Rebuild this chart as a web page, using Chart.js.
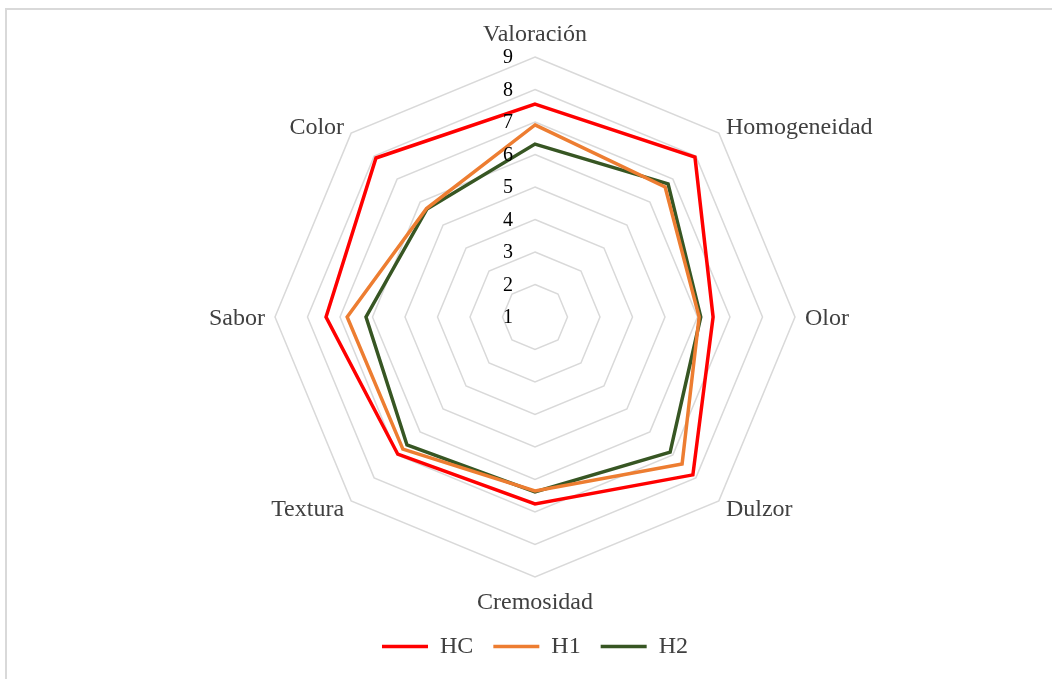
<!DOCTYPE html>
<html>
<head>
<meta charset="utf-8">
<title>Radar</title>
<script src="https://cdn.jsdelivr.net/npm/chart.js@4.4.1/dist/chart.umd.min.js"></script>
<style>
  body { margin: 0; background: #fff; }
  #wrap { position: relative; width: 1052px; height: 679px; overflow: hidden; }
  #frame { position: absolute; left: 5px; top: 8px; width: 1100px; height: 700px;
           border-left: 2px solid #d9d9d9; border-top: 2px solid #d9d9d9; }
  canvas { position: absolute; left: 0; top: 0; }
</style>
</head>
<body>
<div id="wrap">
  <div id="frame"></div>
  <canvas id="radarChart" width="1052" height="679"></canvas>
</div>
<script>
// categorias en orden horario desde arriba
const categories = ['Valoración', 'Homogeneidad', 'Olor', 'Dulzor', 'Cremosidad', 'Textura', 'Sabor', 'Color'];
const tickValues = [1, 2, 3, 4, 5, 6, 7, 8, 9];

const hcValues = [7.55, 7.96, 6.48, 7.87, 6.75, 6.97, 7.43, 7.92];
const h1Values = [6.91, 6.66, 6.05, 7.40, 6.35, 6.75, 6.78, 5.72];
const h2Values = [6.32, 6.79, 6.10, 6.88, 6.38, 6.57, 6.20, 5.70];

const serif = '"Liberation Serif", "Times New Roman", serif';

// etiquetas de los ejes y de la escala, dibujadas con la escala radial
const radarLabels = {
    id: 'radarLabels',
    afterDatasetsDraw(chart) {
        const r = chart.scales.r;
        const ctx = chart.ctx;
        ctx.save();

        ctx.font = '20px ' + serif;
        ctx.fillStyle = '#000000';
        ctx.textAlign = 'right';
        ctx.textBaseline = 'middle';
        tickValues.forEach(v => {
            const y = r.yCenter - r.getDistanceFromCenterForValue(v);
            ctx.fillText(String(v), r.xCenter - 22, y + 1);
        });

        ctx.font = '24px ' + serif;
        ctx.fillStyle = '#404040';
        categories.forEach((name, i) => {
            const base = r.getPointPosition(i, r.drawingArea);
            const vertical = Math.abs(base.x - r.xCenter) < 1;
            const top = vertical && base.y < r.yCenter;
            const p = r.getPointPosition(i, r.drawingArea + (vertical ? (top ? 10 : 14) : 10));
            if (vertical) {
                ctx.textAlign = 'center';
                ctx.textBaseline = top ? 'bottom' : 'top';
                ctx.fillText(name, p.x, p.y);
            } else {
                ctx.textAlign = p.x > r.xCenter ? 'left' : 'right';
                ctx.textBaseline = 'middle';
                ctx.fillText(name, p.x, p.y + 2);
            }
        });
        ctx.restore();
    }
};

const radarChart = new Chart(document.getElementById('radarChart').getContext('2d'), {
    type: 'radar',
    data: {
        labels: categories,
        datasets: [
            { label: 'HC', data: hcValues, borderColor: '#ff0000', backgroundColor: '#ff0000', borderWidth: 3.5 },
            { label: 'H1', data: h1Values, borderColor: '#ed7d31', backgroundColor: '#ed7d31', borderWidth: 3.5 },
            { label: 'H2', data: h2Values, borderColor: '#375623', backgroundColor: '#375623', borderWidth: 3.5 }
        ]
    },
    options: {
        responsive: false,
        animation: false,
        layout: {
            padding: { left: 275, right: 257, top: 20.5, bottom: 10.5 }
        },
        elements: {
            line: { tension: 0, fill: false, borderCapStyle: 'round', borderJoinStyle: 'miter' },
            point: { radius: 0, hoverRadius: 0 }
        },
        scales: {
            r: {
                min: tickValues[0],
                max: tickValues[tickValues.length - 1],
                ticks: { stepSize: 1, display: false },
                angleLines: { display: false },
                grid: { color: '#d9d9d9', lineWidth: 1.5 },
                pointLabels: { display: false }
            }
        },
        plugins: {
            legend: {
                position: 'bottom',
                labels: {
                    usePointStyle: true,
                    pointStyle: 'line',
                    pointStyleWidth: 46,
                    padding: 20,
                    color: '#404040',
                    font: { family: serif, size: 24 }
                }
            },
            tooltip: { enabled: false }
        }
    },
    plugins: [radarLabels]
});
</script>
</body>
</html>
